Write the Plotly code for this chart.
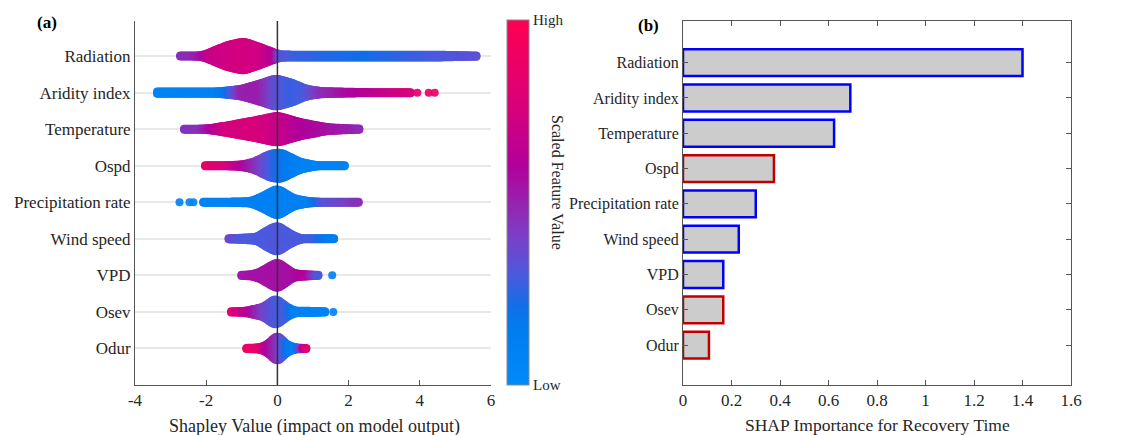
import numpy as np
import plotly.graph_objects as go

# ---------------- data ----------------
features = ["Radiation", "Aridity index", "Temperature", "Ospd", "Precipitation rate",
            "Wind speed", "VPD", "Osev", "Odur"]

# beeswarm outline: knot x (SHAP value), relative swarm half-width, scaled feature value
rad_x = [-2.73, -2.3, -2.08, -1.89, -1.42, -0.95, -0.48, -0.1, 0.08, 0.5, 1.5, 2.5, 3.5, 4.5, 5.62]
rad_w = [0.25, 0.25, 0.28, 0.44, 0.83, 1.04, 0.72, 0.43, 0.31, 0.3, 0.3, 0.3, 0.3, 0.3, 0.25]
rad_c = [0.45, 0.5, 0.58, 0.68, 0.72, 0.74, 0.72, 0.62, 0.33, 0.28, 0.24, 0.22, 0.26, 0.3, 0.34]

ari_x = [-3.38, -2.5, -1.8, -1.42, -1.0, -0.5, -0.05, 0.4, 0.8, 1.21, 1.8, 2.5, 3.2, 3.75]
ari_w = [0.28, 0.28, 0.28, 0.33, 0.44, 0.72, 1.02, 0.78, 0.44, 0.31, 0.28, 0.25, 0.25, 0.25]
ari_c = [0.08, 0.08, 0.1, 0.2, 0.5, 0.52, 0.35, 0.27, 0.3, 0.45, 0.55, 0.62, 0.7, 0.75]
ari_ox = [3.93, 4.25, 4.42]
ari_oc = [0.82, 0.88, 0.88]

tem_x = [-2.62, -2.2, -1.89, -1.42, -0.67, 0.0, 0.65, 1.4, 1.9, 2.31]
tem_w = [0.25, 0.25, 0.28, 0.43, 0.7, 0.98, 0.61, 0.33, 0.28, 0.25]
tem_c = [0.45, 0.45, 0.58, 0.74, 0.76, 0.7, 0.6, 0.56, 0.52, 0.48]

osp_x = [-2.03, -1.5, -1.04, -0.67, -0.2, 0.08, 0.65, 1.12, 1.5, 1.92]
osp_w = [0.25, 0.25, 0.28, 0.43, 0.89, 0.98, 0.43, 0.25, 0.25, 0.25]
osp_c = [0.85, 0.78, 0.62, 0.48, 0.3, 0.2, 0.1, 0.08, 0.08, 0.08]

pre_x = [-2.08, -1.5, -0.76, -0.48, 0.0, 0.46, 0.9, 1.3, 1.8, 2.31]
pre_w = [0.25, 0.25, 0.28, 0.5, 1.0, 0.44, 0.28, 0.25, 0.25, 0.25]
pre_c = [0.08, 0.08, 0.1, 0.1, 0.11, 0.1, 0.12, 0.33, 0.38, 0.46]
pre_ox = [-2.75, -2.47, -2.36]
pre_oc = [0.08, 0.08, 0.08]

win_x = [-1.37, -1.0, -0.57, -0.29, 0.0, 0.37, 0.65, 1.0, 1.4, 1.59]
win_w = [0.25, 0.28, 0.33, 0.7, 0.98, 0.5, 0.25, 0.25, 0.25, 0.25]
win_c = [0.38, 0.3, 0.3, 0.3, 0.31, 0.3, 0.3, 0.28, 0.17, 0.13]

vpd_x = [-1.01, -0.7, -0.48, 0.0, 0.46, 0.8, 1.16]
vpd_w = [0.25, 0.28, 0.43, 0.98, 0.33, 0.28, 0.25]
vpd_c = [0.52, 0.55, 0.55, 0.55, 0.56, 0.62, 0.3]
vpd_ox = [1.54]
vpd_oc = [0.1]

ose_x = [-1.3, -0.9, -0.39, -0.05, 0.27, 0.5, 1.0, 1.35]
ose_w = [0.25, 0.28, 0.5, 1.0, 0.5, 0.28, 0.28, 0.25]
ose_c = [0.82, 0.66, 0.4, 0.3, 0.28, 0.1, 0.08, 0.08]
ose_ox = [1.57]
ose_oc = [0.08]

odu_x = [-0.87, -0.5, -0.29, 0.0, 0.27, 0.5, 0.6, 0.81]
odu_w = [0.25, 0.28, 0.43, 1.0, 0.43, 0.28, 0.26, 0.25]
odu_c = [0.9, 0.85, 0.6, 0.45, 0.2, 0.1, 0.3, 0.82]

swarm = [
    (rad_x, rad_w, rad_c, [], []),
    (ari_x, ari_w, ari_c, ari_ox, ari_oc),
    (tem_x, tem_w, tem_c, [], []),
    (osp_x, osp_w, osp_c, [], []),
    (pre_x, pre_w, pre_c, pre_ox, pre_oc),
    (win_x, win_w, win_c, [], []),
    (vpd_x, vpd_w, vpd_c, vpd_ox, vpd_oc),
    (ose_x, ose_w, ose_c, ose_ox, ose_oc),
    (odu_x, odu_w, odu_c, [], []),
]

# panel (b): mean |SHAP| importance
importance = [1.40, 0.69, 0.623, 0.375, 0.30, 0.23, 0.166, 0.166, 0.107]
edge_colors = ["#0000FF", "#0000FF", "#0000FF", "#C00000", "#0000FF",
               "#0000FF", "#0000FF", "#C00000", "#C00000"]

# ---------------- figure ----------------
W, H = 1121, 435
FONT = "Liberation Serif, Times New Roman, serif"
TXT = "#262626"

colorscale = [
    [0.0, "rgb(0,138,250)"], [0.15, "rgb(0,125,240)"], [0.22, "rgb(20,110,232)"],
    [0.30, "rgb(75,90,222)"], [0.40, "rgb(120,65,200)"], [0.50, "rgb(150,35,175)"],
    [0.60, "rgb(178,0,155)"], [0.75, "rgb(215,0,125)"], [1.0, "rgb(255,0,82)"],
]

row_px = 36.5           # px per row in panel (a)
half = 18.0 / row_px    # visible half-width for w = 1 (rows)
msize = 8
rad = (msize / 2) / row_px
dx = 0.04
dy = 0.05

# gaussian kernel to round the outline drawn through the knots
kern_x = np.arange(-4, 5)
kernel = np.exp(-0.5 * (kern_x / 2.0) ** 2)
kernel /= kernel.sum()


def outline(xg, kx, kw):
    lin = np.interp(xg, kx, kw)
    pad = np.pad(lin, 4, mode="edge")
    return np.convolve(pad, kernel, mode="valid")


fig = go.Figure()

px_all, py_all, pc_all = [], [], []
for i, (kx, kw, kc, ox, oc) in enumerate(swarm):
    xg = np.arange(kx[0], kx[-1] + 1e-9, dx)
    wg = outline(xg, kx, kw) * half
    cg = np.interp(xg, kx, kc)
    for xv, wv, cv in zip(xg, wg, cg):
        inner = max(wv - rad, 0.0)
        n = int(np.floor(inner / dy))
        offs = [j * dy for j in range(-n, n + 1)]
        if inner - n * dy > 0.005:
            offs += [-inner, inner]
        for o in offs:
            px_all.append(xv)
            py_all.append(i + o)
            pc_all.append(cv)
    for xv, cv in zip(ox, oc):
        px_all.append(xv)
        py_all.append(i)
        pc_all.append(cv)

fig.add_trace(go.Scatter(
    x=px_all, y=py_all, mode="markers",
    marker=dict(size=msize, color=pc_all, colorscale=colorscale, cmin=0, cmax=1,
                line=dict(width=0), opacity=0.92,
                colorbar=dict(
                    x=507 / W, xanchor="left", xpad=0, thickness=22,
                    lenmode="pixels", len=365, y=1 - 202.5 / H, yanchor="middle", ypad=0,
                    outlinecolor="#8a8a8a", outlinewidth=1,
                    tickvals=[0, 1], ticktext=["Low", "High"], ticks="",
                    tickfont=dict(family=FONT, size=15, color=TXT),
                )),
    xaxis="x", yaxis="y", hoverinfo="skip", showlegend=False,
))

fig.add_trace(go.Bar(
    x=importance, y=list(range(len(features))), orientation="h",
    width=0.76,
    marker=dict(color="#CCCCCC", line=dict(color=edge_colors, width=2.5)),
    xaxis="x2", yaxis="y2", showlegend=False,
))

dom_y = [1 - 385 / H, 1 - 21 / H]
fig.update_layout(
    width=W, height=H,
    margin=dict(l=0, r=0, t=0, b=0, autoexpand=False),
    paper_bgcolor="white", plot_bgcolor="white",
    font=dict(family=FONT, color=TXT),
    xaxis=dict(domain=[135 / W, 491 / W], range=[-4, 6], tickvals=[-4, -2, 0, 2, 4, 6],
               ticktext=["-4", "-2", "0", "2", "4", "6"], automargin=False,
               showgrid=False, zeroline=False, showline=True, linecolor="#555", linewidth=1,
               ticks="inside", ticklen=5, tickcolor="#555",
               tickfont=dict(size=17, family=FONT, color=TXT), anchor="y"),
    yaxis=dict(domain=dom_y, range=[9, -0.96], tickvals=list(range(9)), ticktext=features,
               automargin=False,
               showgrid=True, gridcolor="#e8e8e8", gridwidth=1.5, zeroline=False,
               showline=True, linecolor="#555", linewidth=1, ticks="",
               tickfont=dict(size=17, family=FONT, color=TXT), anchor="x"),
    xaxis2=dict(domain=[683 / W, 1071 / W], range=[0, 1.6], automargin=False,
                tickvals=[0, 0.2, 0.4, 0.6, 0.8, 1.0, 1.2, 1.4, 1.6],
                ticktext=["0", "0.2", "0.4", "0.6", "0.8", "1", "1.2", "1.4", "1.6"],
                showgrid=False, zeroline=False, showline=True, mirror="ticks",
                linecolor="#555", linewidth=1, ticks="inside", ticklen=5, tickcolor="#555",
                tickfont=dict(size=17, family=FONT, color=TXT), anchor="y2"),
    yaxis2=dict(domain=dom_y, range=[9.13, -1.18], tickvals=list(range(9)), ticktext=features,
                automargin=False,
                showgrid=False, zeroline=False, showline=True, mirror="ticks",
                linecolor="#555", linewidth=1, ticks="inside", ticklen=5, tickcolor="#555",
                tickfont=dict(size=16, family=FONT, color=TXT), anchor="x2"),
    shapes=[dict(type="line", xref="x", yref="y domain", x0=0, x1=0, y0=0, y1=1,
                 line=dict(color="#333", width=1.5), layer="above")],
    annotations=[
        dict(text="<b>(a)</b>", x=47 / W, y=1 - 22 / H, xref="paper", yref="paper",
             xanchor="center", yanchor="middle",
             showarrow=False, font=dict(size=17, family=FONT, color="black")),
        dict(text="<b>(b)</b>", x=648 / W, y=1 - 25 / H, xref="paper", yref="paper",
             xanchor="center", yanchor="middle",
             showarrow=False, font=dict(size=17, family=FONT, color="black")),
        dict(text="Scaled Feature Value", x=558 / W, y=1 - 182 / H, xref="paper", yref="paper",
             xanchor="center", yanchor="middle",
             showarrow=False, textangle=90, font=dict(size=16, family=FONT, color=TXT)),
        dict(text="Shapley Value (impact on model output)", x=314 / W, y=1 - 426 / H,
             xref="paper", yref="paper", showarrow=False, xanchor="center", yanchor="middle",
             font=dict(size=18, family=FONT, color=TXT)),
        dict(text="SHAP Importance for Recovery Time", x=877 / W, y=1 - 425 / H,
             xref="paper", yref="paper", showarrow=False, xanchor="center", yanchor="middle",
             font=dict(size=17.5, family=FONT, color=TXT)),
    ],
)

fig.write_html("out.html", config={"displayModeBar": False},
               post_script="document.body.style.margin='0';document.body.style.overflow='hidden';")
